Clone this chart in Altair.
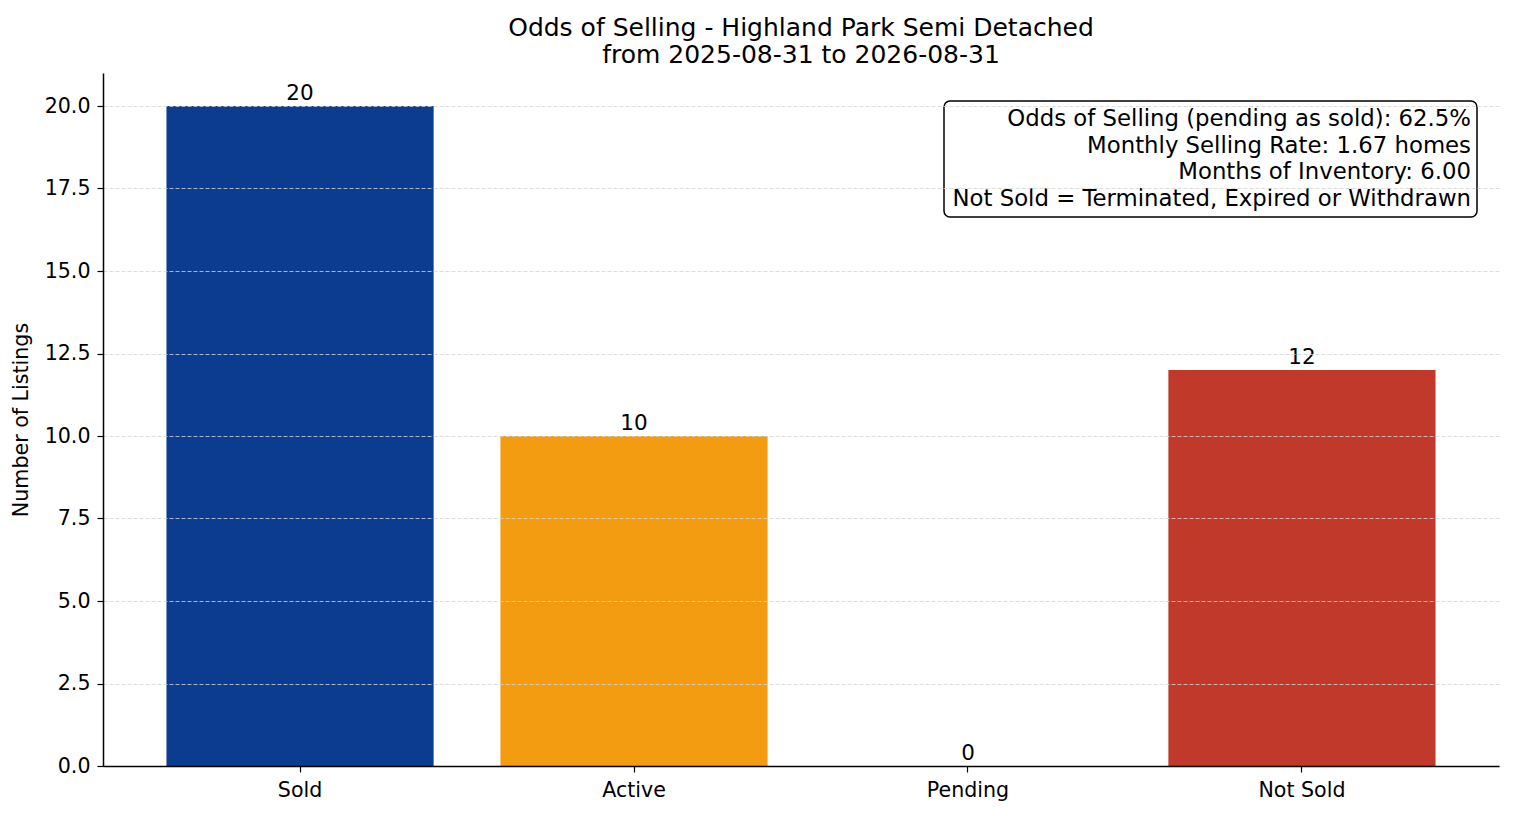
import pandas as pd
import altair as alt

statuses = ['Sold', 'Active', 'Pending', 'Not Sold']
counts = [20, 10, 0, 12]
bar_colors = ['#0B3C8F', '#F39C12', '#7F8C8D', '#C0392B']

title_lines = ['Odds of Selling - Highland Park Semi Detached',
               'from 2025-08-31 to 2026-08-31']
note_lines = ['Odds of Selling (pending as sold): 62.5%',
              'Monthly Selling Rate: 1.67 homes',
              'Months of Inventory: 6.00',
              'Not Sold = Terminated, Expired or Withdrawn']

df = pd.DataFrame({'status': statuses, 'count': counts})
one = pd.DataFrame({'k': [0]})

W, H = 1396, 693
FONT = 'DejaVu Sans'

x = alt.X('status:N', sort=statuses, title=None,
          scale=alt.Scale(paddingInner=0.2, paddingOuter=0.19),
          axis=alt.Axis(labelAngle=0, bandPosition=0.5, zindex=1))
y = alt.Y('count:Q', title='Number of Listings',
          scale=alt.Scale(domain=[0, 21], nice=False, zero=True),
          axis=alt.Axis(values=[i * 2.5 for i in range(9)], format='.1f', zindex=1))

bars = alt.Chart(df).mark_bar().encode(
    x=x, y=y,
    color=alt.Color('status:N', sort=statuses,
                    scale=alt.Scale(domain=statuses, range=bar_colors), legend=None),
)

labels = alt.Chart(df).mark_text(baseline='bottom', dy=-1, fontSize=21.5, font=FONT, color='black').encode(
    x=alt.X('status:N', sort=statuses), y='count:Q', text='count:Q'
)

# annotation box, top right
box = alt.Chart(one).mark_rect(fill='white', stroke='black', strokeWidth=1.5, cornerRadius=6).encode(
    x=alt.value(841), x2=alt.value(1374), y=alt.value(28), y2=alt.value(144)
)

note = alt.Chart(one).mark_text(align='right', baseline='middle', fontSize=22.8, font=FONT,
                                lineHeight=26.6, color='black', text=note_lines).encode(
    x=alt.value(1368), y=alt.value(46)
)

chart = alt.layer(bars, labels, box, note).properties(
    width=W, height=H,
    title=alt.TitleParams(text=title_lines, fontSize=25, font=FONT, fontWeight='normal',
                          anchor='middle', lineHeight=27, offset=5, color='black'),
    autosize=alt.AutoSizeParams(type='none'),
    padding={'left': 95, 'top': 65, 'right': 7, 'bottom': 42},
).configure_view(stroke=None).configure_axis(
    labelFont=FONT, titleFont=FONT, labelFontSize=20.6, titleFontSize=20.6,
    titleFontWeight='normal', labelColor='black', titleColor='black',
    domainColor='black', domainWidth=1.5, tickColor='black', tickSize=6, tickWidth=1.2,
    gridColor='#d4d4d4', gridDash=[4, 2], gridWidth=0.8, labelPadding=7,
).configure_axisY(titlePadding=13).configure_axisX(labelPadding=8)

chart.save('out.html', embed_options={'renderer': 'svg', 'actions': False})
